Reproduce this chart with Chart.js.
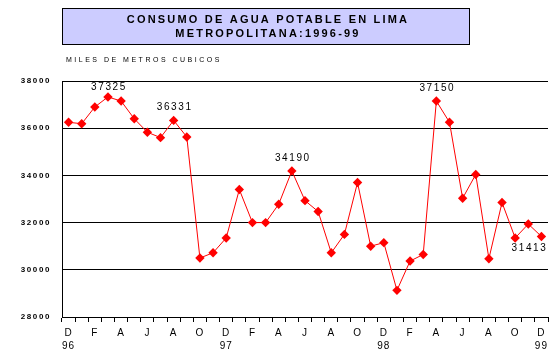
<!DOCTYPE html>
<html><head><meta charset="utf-8">
<script src="https://cdn.jsdelivr.net/npm/chart.js@4/dist/chart.umd.min.js"></script>
<style>html,body{margin:0;padding:0;background:#fff}#wrap{width:558px;height:359px;position:relative}</style>
</head><body><div id="wrap"><canvas id="c"></canvas></div>
<script>
const titleLines = ["CONSUMO DE AGUA POTABLE EN LIMA", "METROPOLITANA:1996-99"];
const unitLabel = "MILES DE METROS CUBICOS";
const categories = ["Dic-96","Ene-97","Feb-97","Mar-97","Abr-97","May-97","Jun-97","Jul-97","Ago-97","Set-97","Oct-97","Nov-97",
  "Dic-97","Ene-98","Feb-98","Mar-98","Abr-98","May-98","Jun-98","Jul-98","Ago-98","Set-98","Oct-98","Nov-98",
  "Dic-98","Ene-99","Feb-99","Mar-99","Abr-99","May-99","Jun-99","Jul-99","Ago-99","Set-99","Oct-99","Nov-99","Dic-99"];
const tickLetters = ["D","","F","","A","","J","","A","","O","",
  "D","","F","","A","","J","","A","","O","",
  "D","","F","","A","","J","","A","","O","","D"];
const yearLabels = ["96","","","","","","","","","","","",
  "97","","","","","","","","","","","",
  "98","","","","","","","","","","","","99"];
const consumo = [36250,36190,36900,37325,37150,36400,35830,35600,36331,35630,30500,30720,
  31350,33400,32000,32000,32780,34190,32930,32470,30720,31500,33700,31000,
  31150,29130,30370,30650,37150,36250,33030,34040,30470,32850,31350,31940,31413];
const labelledIdx = [3, 8, 17, 28, 36];
const yTicks = [28000, 30000, 32000, 34000, 36000, 38000];

const FONT = "'Liberation Sans', Arial, sans-serif";

const spacingPlugin = {
  id: 'spacing',
  beforeDraw(chart) {
    const conf = { x: '1px', y: '1.6px' };
    Object.keys(conf).forEach(id => {
      const s = chart.scales[id];
      if (s && !s._spPatched) {
        const orig = s.drawLabels;
        s.drawLabels = function (a) {
          const c = this.ctx; c.save(); c.letterSpacing = conf[id]; orig.call(this, a); c.restore();
        };
        s._spPatched = true;
      }
    });
  }
};

const decorPlugin = {
  id: 'decor',
  beforeDraw(chart) {
    const ctx = chart.ctx;
    ctx.save();
    ctx.fillStyle = '#CCCCFF';
    ctx.fillRect(62, 8, 407, 36);
    ctx.strokeStyle = '#000';
    ctx.lineWidth = 1;
    ctx.strokeRect(62.5, 8.5, 407, 36);
    ctx.fillStyle = '#000';
    ctx.font = "bold 11px " + FONT;
    ctx.letterSpacing = '2.2px';
    ctx.textAlign = 'center';
    ctx.textBaseline = 'middle';
    ctx.fillText(titleLines[0], 268, 20);
    ctx.fillText(titleLines[1], 268, 34);
    ctx.font = "7px " + FONT;
    ctx.letterSpacing = '2.5px';
    ctx.textAlign = 'left';
    ctx.fillText(unitLabel, 66, 60);
    ctx.restore();
  },
  afterDatasetsDraw(chart) {
    const ctx = chart.ctx;
    const meta = chart.getDatasetMeta(0);
    ctx.save();
    ctx.fillStyle = '#000';
    ctx.font = "10px " + FONT;
    ctx.letterSpacing = '1.6px';
    ctx.textBaseline = 'middle';
    labelledIdx.forEach(i => {
      const p = meta.data[i];
      const txt = String(consumo[i]);
      if (i === consumo.length - 1) {
        ctx.textAlign = 'right';
        ctx.fillText(txt, p.x + 6, p.y + 12);
      } else {
        ctx.textAlign = 'center';
        ctx.fillText(txt, p.x + 1, p.y - (i === 3 ? 10 : 13));
      }
    });
    ctx.restore();
  }
};

new Chart(document.getElementById('c'), {
  type: 'line',
  data: {
    labels: categories,
    datasets: [{
      data: consumo,
      borderColor: '#FF0000',
      backgroundColor: '#FF0000',
      borderWidth: 1,
      pointStyle: 'rectRot',
      pointRadius: 4.7,
      pointHoverRadius: 4.7,
      pointBorderWidth: 0,
      tension: 0,
      fill: false
    }]
  },
  options: {
    responsive: true,
    maintainAspectRatio: false,
    animation: false,
    events: [],
    layout: { padding: { top: 81, right: 10, left: 0, bottom: 0 } },
    plugins: { legend: { display: false }, tooltip: { enabled: false }, title: { display: false } },
    scales: {
      x: {
        type: 'category',
        offset: true,
        grid: { offset: true, drawOnChartArea: false, drawTicks: true, tickLength: 5, color: '#000', lineWidth: 1 },
        border: { display: true, color: '#000', width: 1 },
        ticks: {
          autoSkip: false, maxRotation: 0, minRotation: 0, padding: 4, color: '#000',
          font: { family: FONT, size: 10, lineHeight: 1.35 },
          callback: (v, i) => yearLabels[i] ? [tickLetters[i], yearLabels[i]] : tickLetters[i]
        },
        afterFit: s => { s.height = 42; }
      },
      y: {
        min: 28000, max: 38000,
        afterBuildTicks: s => { s.ticks = yTicks.map(v => ({ value: v })); },
        grid: { drawTicks: false, color: '#000', lineWidth: 1 },
        border: { display: true, color: '#000', width: 1 },
        ticks: { padding: 11, color: '#000', font: { family: FONT, size: 8, weight: 'bold' }, callback: v => String(v) },
        afterFit: s => { s.width = 62; }
      }
    }
  },
  plugins: [spacingPlugin, decorPlugin]
});
</script>
</body></html>
